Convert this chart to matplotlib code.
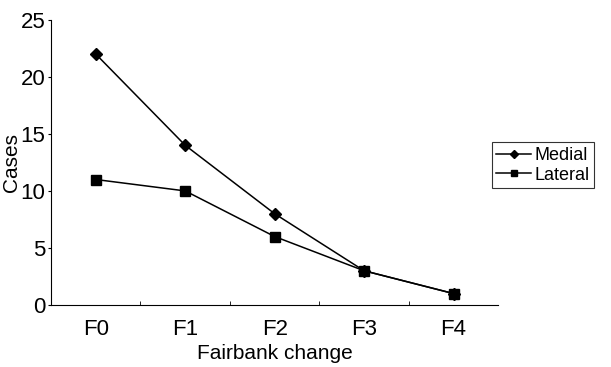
import matplotlib.pyplot as plt
from matplotlib.ticker import FixedLocator

plt.rcParams['font.family'] = ['Liberation Sans Narrow', 'Liberation Sans', 'DejaVu Sans']

categories = ['F0', 'F1', 'F2', 'F3', 'F4']
medial = [22, 14, 8, 3, 1]
lateral = [11, 10, 6, 3, 1]

fig = plt.figure(figsize=(6.11, 3.67), dpi=100)
ax = fig.add_axes([0.0835, 0.169, 0.732, 0.777])

x = range(len(categories))
ax.plot(x, medial, '-D', color='black', lw=1.1, ms=6, label='Medial')
ax.plot(x, lateral, '-s', color='black', lw=1.1, ms=7, label='Lateral')

ax.set_xlim(-0.5, 4.5)
ax.set_ylim(0, 25)
ax.set_xticks(list(x))
ax.set_xticklabels(categories)
ax.xaxis.set_minor_locator(FixedLocator([0.5, 1.5, 2.5, 3.5]))
ax.tick_params(axis='x', which='major', length=0, labelsize=16, pad=10)
ax.tick_params(axis='x', which='minor', direction='in', length=3)
ax.tick_params(axis='y', direction='out', length=2, labelsize=16, pad=2)
ax.set_yticks([0, 5, 10, 15, 20, 25])

for side in ['top', 'right']:
    ax.spines[side].set_visible(False)

ax.set_xlabel('Fairbank change', fontsize=15, labelpad=3)
ax.set_ylabel('Cases', fontsize=15, labelpad=0)

leg = fig.legend(*ax.get_legend_handles_labels(), loc='upper left',
                 bbox_to_anchor=(0.805, 0.612), fontsize=13,
                 frameon=True, fancybox=False, edgecolor='black',
                 handlelength=1.9, handletextpad=0.2, borderpad=0.25,
                 borderaxespad=0, labelspacing=0.15, markerscale=0.7)
leg.get_frame().set_linewidth(0.8)

fig.savefig('out.png', dpi=100)
